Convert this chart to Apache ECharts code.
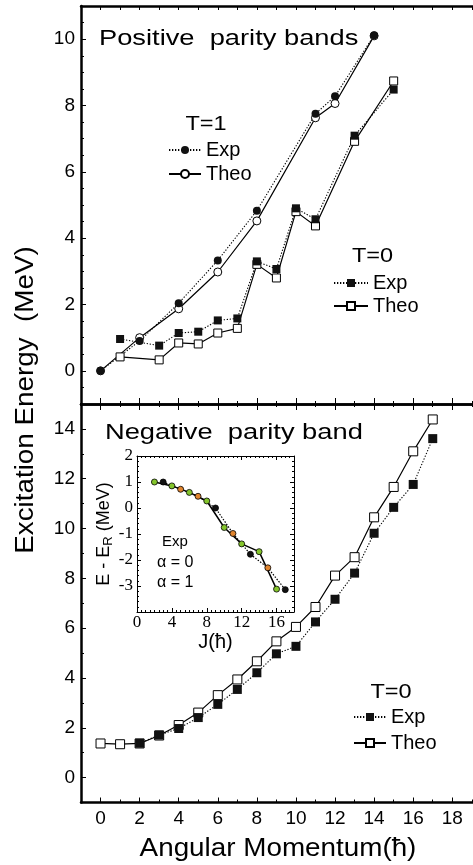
<!DOCTYPE html>
<html>
<head>
<meta charset="utf-8">
<script src="https://cdn.jsdelivr.net/npm/echarts@6/dist/echarts.min.js"></script>
<style>
  html, body { margin: 0; padding: 0; background: #fff; }
  #chart { width: 473px; height: 865px; }
</style>
</head>
<body>
<div id="chart"></div>
<script>
// positive parity bands, T=1
const t1Spin = [0, 2, 4, 6, 8, 11, 12, 14];
const t1Exp = [0, 0.9, 2.04, 3.33, 4.83, 7.75, 8.28, 10.12];
const t1Theo = [0, 1.0, 1.87, 2.98, 4.52, 7.63, 8.06, 10.1];

// positive parity bands, T=0
const t0Spin = [1, 3, 4, 5, 6, 7, 8, 9, 10, 11, 13, 15];
const t0Exp = [0.96, 0.76, 1.14, 1.18, 1.52, 1.58, 3.3, 3.07, 4.9, 4.57, 7.09, 8.48];
const t0Theo = [0.42, 0.33, 0.84, 0.81, 1.14, 1.28, 3.21, 2.8, 4.8, 4.37, 6.92, 8.74];

// negative parity band, T=0
const negSpinExp = [2, 3, 4, 5, 6, 7, 8, 9, 10, 11, 12, 13, 14, 15, 16, 17];
const negExp = [1.38, 1.71, 1.97, 2.41, 2.94, 3.54, 4.21, 4.97, 5.27, 6.25, 7.16, 8.21, 9.81, 10.85, 11.77, 13.61];
const negSpinTheo = [0, 1, 2, 3, 4, 5, 6, 7, 8, 9, 10, 11, 12, 13, 14, 15, 16, 17];
const negTheo = [1.37, 1.34, 1.37, 1.69, 2.11, 2.61, 3.31, 3.94, 4.67, 5.47, 6.05, 6.85, 8.11, 8.85, 10.45, 11.67, 13.1, 14.38];

// inset: E - E_R vs J
const insetEvenJ = [2, 4, 6, 8, 10, 12, 14, 16];
const insetEven = [1.0, 0.85, 0.6, 0.27, -0.75, -1.38, -1.68, -3.12];
const insetOddJ = [3, 5, 7, 9, 11, 13, 15, 17];
const insetOdd = [1.0, 0.72, 0.45, 0.0, -0.98, -1.78, -2.3, -3.14];
const insetOddKind = ['b', 'o', 'o', 'b', 'o', 'b', 'o', 'b'];

// tick labels
const xLabels = [0, 2, 4, 6, 8, 10, 12, 14, 16, 18];
const topYLabels = [0, 2, 4, 6, 8, 10];
const botYLabels = [0, 2, 4, 6, 8, 10, 12, 14];

const FONT = '"Liberation Sans", Arial, Helvetica, sans-serif';
const SERIF = '"Liberation Serif", "Times New Roman", serif';

function steps(a, b, s) {
  const out = [];
  for (let v = a; v <= b + 1e-9; v += s) out.push(Math.round(v * 1000) / 1000);
  return out;
}
const pts = (xs, ys) => xs.map((x, i) => [x, ys[i]]);

const xMin = -1, xMax = 19.06;
const evenX = steps(0, 18, 2);
const oddX = steps(1, 19, 2);
const allX = steps(0, 19, 1);

function mainX(gridIndex, position, ticks, len, showLine, label) {
  return {
    type: 'value', gridIndex, position, min: xMin, max: xMax,
    splitLine: { show: false },
    axisLine: { show: showLine, onZero: false, lineStyle: { color: '#000', width: 2.5 } },
    axisTick: { show: true, inside: true, length: len, customValues: ticks, lineStyle: { color: '#000', width: 1 } },
    axisLabel: label ? {
      show: true, customValues: xLabels, margin: 7,
      fontFamily: FONT, fontSize: 19, color: '#000'
    } : { show: false }
  };
}

function mainY(gridIndex, min, max, ticks, len, showLine, labels) {
  return {
    type: 'value', gridIndex, position: 'left', min, max,
    splitLine: { show: false },
    axisLine: { show: showLine, onZero: false, lineStyle: { color: '#000', width: 2.5 } },
    axisTick: { show: true, inside: true, length: len, customValues: ticks, lineStyle: { color: '#000', width: 1 } },
    axisLabel: labels ? {
      show: true, customValues: labels, margin: 6,
      fontFamily: FONT, fontSize: 19, color: '#000'
    } : { show: false }
  };
}

function insetX(position, label) {
  return {
    type: 'value', gridIndex: 2, position, min: 0, max: 18, interval: 4,
    splitLine: { show: false },
    axisLine: { show: true, onZero: false, lineStyle: { color: '#000', width: 1 } },
    axisTick: { show: true, inside: true, length: 4, lineStyle: { color: '#000', width: 1 } },
    minorTick: { show: true, splitNumber: 8, length: 2, lineStyle: { color: '#000', width: 1 } },
    axisLabel: label ? {
      show: true, margin: 2, fontFamily: SERIF, fontSize: 17, color: '#000',
      showMaxLabel: false,
      formatter: (v) => (v > 16 ? '' : String(v))
    } : { show: false },
    name: label ? 'J(ħ)' : '', nameLocation: 'middle', nameGap: 20,
    nameTextStyle: { fontFamily: FONT, fontSize: 20, color: '#000' }
  };
}

function insetY(position, label) {
  return {
    type: 'value', gridIndex: 2, position, min: -4, max: 2, interval: 1,
    splitLine: { show: false },
    axisLine: { show: true, onZero: false, lineStyle: { color: '#000', width: 1 } },
    axisTick: { show: true, inside: true, length: 4, lineStyle: { color: '#000', width: 1 } },
    minorTick: { show: true, splitNumber: 5, length: 2, lineStyle: { color: '#000', width: 1 } },
    axisLabel: label ? {
      show: true, margin: 4, fontFamily: SERIF, fontSize: 17, color: '#000',
      formatter: (v) => (v === -4 ? '' : String(v))
    } : { show: false },
    name: label ? 'E - E{s|R} (MeV)' : '', nameLocation: 'middle', nameRotate: 90, nameGap: 21,
    nameTextStyle: {
      fontFamily: FONT, fontSize: 18, color: '#000', lineHeight: 22,
      rich: { s: { fontFamily: FONT, fontSize: 13, verticalAlign: 'bottom', lineHeight: 13 } }
    }
  };
}

const DOT = [1.3, 1.7];
const black = '#111';
const emptyStyle = { color: '#fff', borderColor: '#000', borderWidth: 1 };

function line(name, data, xi, yi, symbol, size, itemStyle, dashed) {
  return {
    name, type: 'line', xAxisIndex: xi, yAxisIndex: yi, data,
    symbol, symbolSize: size, showSymbol: true, animation: false,
    itemStyle,
    lineStyle: { color: '#000', width: dashed ? 1.1 : 1.2, type: dashed ? DOT : 'solid' },
    emphasis: { disabled: true }
  };
}

const kindColor = { b: '#111', o: '#e0842e' };

const legendBase = {
  orient: 'vertical', padding: 0, itemWidth: 32, itemHeight: 10,
  selectedMode: false,
  formatter: (n) => n.split(' ')[1],
  textStyle: { fontFamily: FONT, fontSize: 20, color: '#000', lineHeight: 20 }
};

function txt(text, x, y, size, align, extra) {
  return Object.assign({
    type: 'text', x, y,
    style: {
      text, font: size + 'px ' + FONT, fill: '#000',
      textAlign: align, align: align, textVerticalAlign: 'middle', verticalAlign: 'middle'
    }
  }, extra || {});
}

const chart = echarts.init(document.getElementById('chart'));
chart.setOption({
  animation: false,
  backgroundColor: '#fff',
  grid: [
    { left: 81, top: 6, width: 400, height: 398 },
    { left: 81, top: 404, width: 400, height: 398.5 },
    { left: 137, top: 456, width: 157, height: 156 }
  ],
  xAxis: [
    mainX(0, 'bottom', evenX, 6, true, false),   // 0 top panel, divider
    mainX(0, 'bottom', oddX, 3, false, false),   // 1
    mainX(0, 'top', allX, 4, true, false),       // 2 top border
    mainX(1, 'top', evenX, 6, true, false),      // 3 divider, lower panel
    mainX(1, 'top', oddX, 3, false, false),      // 4
    mainX(1, 'bottom', evenX, 5, true, true),    // 5 bottom axis
    mainX(1, 'bottom', oddX, 3, false, false),   // 6
    insetX('bottom', true),                      // 7
    insetX('top', false)                         // 8
  ],
  yAxis: [
    mainY(0, -1, 11, steps(0, 10, 2), 5, true, topYLabels),   // 0
    mainY(0, -1, 11, steps(-1, 11, 0.5), 3, false, null),     // 1
    mainY(1, -1, 15, steps(0, 14, 2), 5, true, botYLabels),   // 2
    mainY(1, -1, 15, steps(-1, 15, 1), 3, false, null),       // 3
    insetY('left', true),                                     // 4
    insetY('right', false)                                    // 5
  ],
  legend: [
    Object.assign({}, legendBase, { left: 168, top: 140, itemGap: 4, data: ['T1 Exp', 'T1 Theo'] }),
    Object.assign({}, legendBase, { left: 333, top: 273, itemGap: 3, itemWidth: 34, data: ['T0 Exp', 'T0 Theo'] }),
    Object.assign({}, legendBase, { left: 353, top: 707, itemGap: 6, data: ['N Exp', 'N Theo'] })
  ],
  graphic: [
    txt('Positive  parity bands', 99, 39, 22, 'left', { scaleX: 1.24 }),
    txt('Negative  parity band', 105, 432.5, 22, 'left', { scaleX: 1.24 }),
    txt('T=1', 206, 124, 21, 'center', { scaleX: 1.12 }),
    txt('T=0', 372.5, 256.5, 21, 'center', { scaleX: 1.12 }),
    txt('T=0', 391, 692.5, 21, 'center', { scaleX: 1.12 }),
    txt('Excitation Energy  (MeV)', 26, 400, 26, 'center', { rotation: Math.PI / 2, scaleX: 1.07 }),
    txt('Angular Momentum(ħ)', 278, 849, 26, 'center', { scaleX: 1.07 }),
    txt('Exp', 162, 542, 15, 'left'),
    txt('α = 0', 157, 563, 16, 'left'),
    txt('α = 1', 157, 583, 16, 'left')
  ],
  series: [
    line('T1 Theo', pts(t1Spin, t1Theo), 0, 0, 'circle', 8, emptyStyle, false),
    line('T1 Exp', pts(t1Spin, t1Exp), 0, 0, 'circle', 8, { color: black }, true),
    line('T0 Theo', pts(t0Spin, t0Theo), 0, 0, 'rect', 8, emptyStyle, false),
    line('T0 Exp', pts(t0Spin, t0Exp), 0, 0, 'rect', 8, { color: black }, true),
    line('N Theo', pts(negSpinTheo, negTheo), 5, 2, 'rect', 9, emptyStyle, false),
    line('N Exp', pts(negSpinExp, negExp), 5, 2, 'rect', 9, { color: black }, true),
    {
      name: 'odd', type: 'line', xAxisIndex: 7, yAxisIndex: 4,
      data: insetOddJ.map((j, i) => ({
        value: [j, insetOdd[i]],
        itemStyle: { color: kindColor[insetOddKind[i]] }
      })),
      symbol: 'circle', symbolSize: 6,
      itemStyle: { borderColor: '#000', borderWidth: 0.8 },
      lineStyle: { color: '#000', width: 1.2, type: [1.5, 1.5] },
      emphasis: { disabled: true }
    },
    {
      name: 'even', type: 'line', xAxisIndex: 7, yAxisIndex: 4,
      data: pts(insetEvenJ, insetEven),
      symbol: 'circle', symbolSize: 6,
      itemStyle: { color: '#84c52c', borderColor: '#000', borderWidth: 0.8 },
      lineStyle: { color: '#000', width: 1.5 },
      emphasis: { disabled: true }
    }
  ]
});
</script>
</body>
</html>
